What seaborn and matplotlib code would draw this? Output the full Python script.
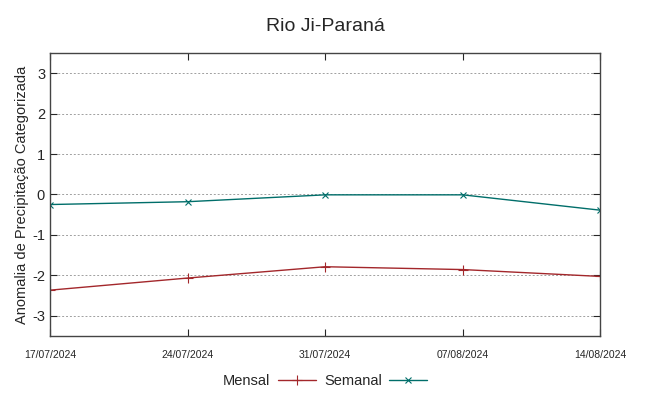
import pandas as pd
import numpy as np
import matplotlib
matplotlib.use("Agg")
import matplotlib.pyplot as plt
import matplotlib.dates as mdates
import seaborn as sns

# data
dates = ["17/07/2024", "24/07/2024", "31/07/2024", "07/08/2024", "14/08/2024"]
mensal = [-2.37, -2.07, -1.79, -1.86, -2.03]
semanal = [-0.25, -0.18, -0.01, -0.01, -0.39]

sns.set_style("ticks")
plt.rcParams["font.family"] = ["Liberation Sans", "DejaVu Sans"]
plt.rcParams["axes.unicode_minus"] = False

x = pd.to_datetime(dates, format="%d/%m/%Y")

fig = plt.figure(figsize=(6.49, 3.96), dpi=100)
ax = fig.add_axes([0.077, 0.152, 0.848, 0.714])

red = "#a3272b"
teal = "#006e6a"
sns.lineplot(x=x, y=mensal, ax=ax, color=red, marker="+", markersize=7,
             markeredgewidth=0.8, markeredgecolor=red, linewidth=1, label="Mensal")
sns.lineplot(x=x, y=semanal, ax=ax, color=teal, marker="x", markersize=5,
             markeredgewidth=0.8, markeredgecolor=teal, linewidth=1, label="Semanal")

ax.set_xlim(x[0], x[-1])
ax.set_ylim(-3.5, 3.5)
ax.set_yticks(range(-3, 4))
ax.set_xticks(x)
ax.xaxis.set_major_formatter(mdates.DateFormatter("%d/%m/%Y"))
ax.tick_params(axis="x", labelsize=7.5, direction="in", top=True, pad=10, length=5)
ax.tick_params(axis="y", labelsize=10.5, direction="in", right=True, length=5)
ax.grid(axis="y", color="#a0a0a0", linestyle=(0, (2, 2)), linewidth=0.7)
for s in ax.spines.values():
    s.set_color("#444444")
    s.set_linewidth(1)

ax.set_ylabel("Anomalia de Precipitação Categorizada", fontsize=10.5, labelpad=2)
ax.set_xlabel("")
ax.set_title("Rio Ji-Paraná", fontsize=14, pad=16)

ax.legend(loc="upper center", bbox_to_anchor=(0.5, -0.09), ncol=2, frameon=False,
          markerfirst=False, fontsize=10.5, handlelength=2.6, columnspacing=0.6,
          handletextpad=0.5)

fig.savefig("out.png", dpi=100)
